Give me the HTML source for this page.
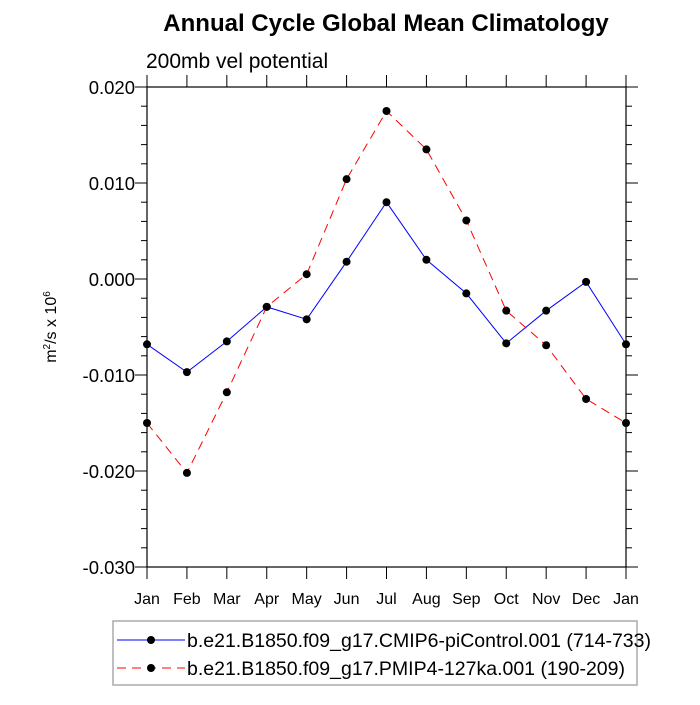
<!DOCTYPE html>
<html><head><meta charset="utf-8"><style>
body{margin:0;background:#fff;font-family:"Liberation Sans",sans-serif}
svg text{font-family:"Liberation Sans",sans-serif}
</style></head><body>
<svg id="chart" width="700" height="700">
<text x="386" y="31" font-size="24" font-weight="bold" text-anchor="middle">Annual Cycle Global Mean Climatology</text>
<text x="146" y="68" font-size="21">200mb vel potential</text>
<text transform="translate(56,327) rotate(-90)" font-size="16" text-anchor="middle">m<tspan dy="-6" font-size="10">2</tspan><tspan dy="6">/s x 10</tspan><tspan dy="-6" font-size="10">6</tspan></text>
<g id="axes"></g>
<g id="series"></g>
<g>
<rect x="113" y="621" width="524" height="64" fill="none" stroke="#aaa" stroke-width="1.5"/>
<g>
<line x1="117" y1="640" x2="185" y2="640" stroke="#0000ff" stroke-width="1"/>
<circle cx="151" cy="640" r="4" fill="#000"/>
<text x="187" y="647" font-size="19.5">b.e21.B1850.f09_g17.CMIP6-piControl.001 (714-733)</text>
</g>
<g>
<line x1="117" y1="668" x2="185" y2="668" stroke="#ff0000" stroke-width="1" stroke-dasharray="9,6"/>
<circle cx="151" cy="668" r="4" fill="#000"/>
<text x="187" y="675" font-size="19.5">b.e21.B1850.f09_g17.PMIP4-127ka.001 (190-209)</text>
</g>
</g>
</svg>
<script>
const months = ["Jan","Feb","Mar","Apr","May","Jun","Jul","Aug","Sep","Oct","Nov","Dec","Jan"];
const piControl = [-0.0068,-0.0097,-0.0065,-0.0029,-0.0042,0.0018,0.0080,0.0020,-0.0015,-0.0067,-0.0033,-0.0003,-0.0068];
const ka127 = [-0.0150,-0.0202,-0.0118,-0.0029,0.0005,0.0104,0.0175,0.0135,0.0061,-0.0033,-0.0069,-0.0125,-0.0150];
const yTicks = [0.020,0.010,0.000,-0.010,-0.020,-0.030];
const yTickLabels = ["0.020","0.010","0.000","-0.010","-0.020","-0.030"];
const NS="http://www.w3.org/2000/svg";
const L=147,R=626,T=87,B=567,ymin=-0.03,ymax=0.02;
const xs=i=>L+i*(R-L)/(months.length-1);
const ys=v=>B-(v-ymin)/(ymax-ymin)*(B-T);
function mk(tag,attrs,parent){const e=document.createElementNS(NS,tag);for(const k in attrs)e.setAttribute(k,attrs[k]);parent.appendChild(e);return e;}
const ax=document.getElementById('axes');
const frame=mk('rect',{x:L,y:T,width:R-L,height:B-T,fill:'none',stroke:'#000','stroke-width':1.2},ax);


months.forEach((m,i)=>{
  const x=xs(i);
  mk('line',{x1:x,y1:B,x2:x,y2:B+12,stroke:'#000'},ax);
  mk('line',{x1:x,y1:T,x2:x,y2:T-12,stroke:'#000'},ax);
  const t=mk('text',{x:x,y:B+37,'font-size':16,'text-anchor':'middle'},ax);
  t.textContent=m;
  
  
});
for(let v=ymin;v<=ymax+1e-9;v+=0.002){
  const y=ys(v);
  mk('line',{x1:L,y1:y,x2:L-6,y2:y,stroke:'#000'},ax);
  mk('line',{x1:R,y1:y,x2:R+6,y2:y,stroke:'#000'},ax);
}
yTicks.forEach((v,i)=>{
  const y=ys(v);
  mk('line',{x1:L,y1:y,x2:L-12,y2:y,stroke:'#000'},ax);
  mk('line',{x1:R,y1:y,x2:R+12,y2:y,stroke:'#000'},ax);
  const t=mk('text',{x:L-12,y:y+7,'font-size':18.5,'text-anchor':'end'},ax);
  t.textContent=yTickLabels[i];
  
  
});
const sg=document.getElementById('series');
function drawSeries(vals,color,dash,name){
  const g=mk('g',{},sg);
  
  
  const pts=vals.map((v,i)=>xs(i)+','+ys(v)).join(' ');
  const p=mk('polyline',{points:pts,fill:'none',stroke:color,'stroke-width':1,'stroke-dasharray':dash},g);
  
  
  vals.forEach((v,i)=>{
    const c=mk('circle',{cx:xs(i),cy:ys(v),r:4,fill:'#000'},g);
    
    
  });
}
drawSeries(piControl,'#0000ff','none','picontrol-series');
drawSeries(ka127,'#ff0000','9,6','pmip4-127ka-series');
</script>
</body></html>
